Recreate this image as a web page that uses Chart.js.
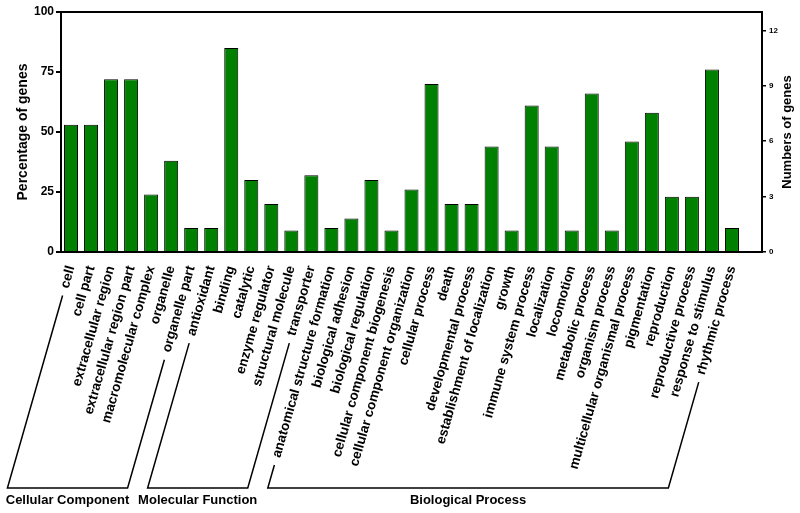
<!DOCTYPE html>
<html>
<head>
<meta charset="utf-8">
<script src="https://cdn.jsdelivr.net/npm/chart.js@4.4.0/dist/chart.umd.min.js"></script>
<style>
  body { margin: 0; background: #fff; }
  #goChart { display: block; }
</style>
</head>
<body>
<canvas id="goChart" width="800" height="513"></canvas>
<script>
// GO terms in plot order
const categories = [
  'cell', 'cell part', 'extracellular region', 'extracellular region part',
  'macromolecular complex', 'organelle', 'organelle part',
  'antioxidant', 'binding', 'catalytic', 'enzyme regulator', 'structural molecule', 'transporter',
  'anatomical structure formation', 'biological adhesion', 'biological regulation',
  'cellular component biogenesis', 'cellular component organization', 'cellular process',
  'death', 'developmental process', 'establishment of localization', 'growth',
  'immune system process', 'localization', 'locomotion', 'metabolic process',
  'organism process', 'multicellular organismal process', 'pigmentation', 'reproduction',
  'reproductive process', 'response to stimulus', 'rhythmic process'
];
const percentages = [
  53, 53, 72, 72, 24, 38, 10,
  10, 85, 30, 20, 9, 32,
  10, 14, 30, 9, 26, 70, 20, 20, 44, 9, 61, 44, 9, 66, 9, 46, 58, 23, 23, 76, 10
];
const leftTicks = [0, 25, 50, 75, 100];
const rightTicks = [0, 3, 6, 9, 12];
const rightTitle = 'Numbers of genes';

// GO top-level groups (first / last category index)
const groupNames = ['Cellular Component', 'Molecular Function', 'Biological Process'];
const groupStart = [0, 7, 13];
const groupEnd = [6, 12, 33];

const fontFamily = '"Liberation Sans", Arial, sans-serif';
const labelSize = 13.5;
const labelPad = 12;
const rotDeg = 74;
const rot = rotDeg * Math.PI / 180;

// top frame line, right title (reads bottom-up) and the group brackets
const groupBrackets = {
  id: 'groupBrackets',
  afterDraw(chart) {
    const ctx = chart.ctx;
    const xs = chart.scales.x;
    const area = chart.chartArea;
    ctx.save();
    ctx.strokeStyle = '#000';
    ctx.fillStyle = '#000';
    ctx.lineWidth = 2;
    ctx.beginPath();
    ctx.moveTo(area.left - 1, area.top);
    ctx.lineTo(area.right + 1, area.top);
    ctx.stroke();

    // right axis title
    ctx.save();
    ctx.translate(787, (area.top + area.bottom) / 2);
    ctx.rotate(-Math.PI / 2);
    ctx.font = 'bold 13px ' + fontFamily;
    ctx.textAlign = 'center';
    ctx.textBaseline = 'middle';
    ctx.fillText(rightTitle, 0, 0);
    ctx.restore();

    ctx.font = 'bold ' + labelSize + 'px ' + fontFamily;
    const baseY = xs.top + labelPad + labelSize * 1.2 * Math.cos(rot) / 2;
    const dx = -Math.cos(rot), dy = Math.sin(rot);
    const lineY = 488;
    const ends = (i) => {
      const tx = xs.getPixelForTick(i);
      const w = ctx.measureText(categories[i]).width + 8;
      const t = (lineY - baseY) / dy;
      return { x1: tx + dx * w, y1: baseY + dy * w, x2: tx + dx * t, y2: lineY };
    };
    ctx.lineWidth = 1.5;
    ctx.textAlign = 'center';
    ctx.textBaseline = 'middle';
    groupNames.forEach((name, g) => {
      const a = ends(groupStart[g]);
      const b = ends(groupEnd[g]);
      ctx.beginPath();
      ctx.moveTo(a.x1, a.y1);
      ctx.lineTo(a.x2, a.y2);
      ctx.lineTo(b.x2, b.y2);
      ctx.lineTo(b.x1, b.y1);
      ctx.stroke();
      ctx.font = 'bold 13px ' + fontFamily;
      ctx.fillText(name, (a.x2 + b.x2) / 2, 500);
      ctx.font = 'bold ' + labelSize + 'px ' + fontFamily;
    });
    ctx.restore();
  }
};

const goChart = new Chart(document.getElementById('goChart'), {
  type: 'bar',
  data: {
    labels: categories.concat(['']),
    datasets: [
      {
        label: 'Percentage of genes',
        data: percentages,
        backgroundColor: '#008000',
        borderColor: '#000',
        borderWidth: 1,
        barPercentage: 0.7,
        categoryPercentage: 1.0,
        yAxisID: 'y',
      },
    ],
  },
  options: {
    responsive: false,
    animation: false,
    layout: { padding: { top: 12, left: 0, right: 0, bottom: 0 } },
    plugins: {
      legend: { display: false },
      tooltip: { enabled: false },
    },
    scales: {
      x: {
        afterFit: (s) => { s.height = 261; },
        grid: { display: false, drawTicks: false },
        border: { display: true, color: '#000', width: 2 },
        ticks: {
          autoSkip: false,
          minRotation: rotDeg,
          maxRotation: rotDeg,
          padding: labelPad,
          color: '#000',
          font: { family: fontFamily, size: labelSize, weight: 'bold' },
        },
      },
      y: {
        position: 'left',
        min: 0,
        max: 100,
        afterFit: (s) => { s.width = 61; },
        afterBuildTicks: (s) => { s.ticks = leftTicks.map(v => ({ value: v })); },
        grid: { drawOnChartArea: false, drawTicks: true, tickLength: 5, color: '#000', lineWidth: 2 },
        border: { display: true, color: '#000', width: 2 },
        ticks: { padding: 2, color: '#000', font: { family: fontFamily, size: 12, weight: 'bold' } },
        title: {
          display: true,
          text: 'Percentage of genes',
          color: '#000',
          padding: { top: 15, bottom: 0 },
          font: { family: fontFamily, size: 14, weight: 'bold' },
        },
      },
      y1: {
        position: 'right',
        min: 0,
        max: 13,
        afterFit: (s) => { s.width = 38; },
        afterBuildTicks: (s) => { s.ticks = rightTicks.map(v => ({ value: v })); },
        grid: { drawOnChartArea: false, drawTicks: true, tickLength: 4, color: '#000', lineWidth: 1.5 },
        border: { display: true, color: '#000', width: 2 },
        ticks: { padding: 3, color: '#000', font: { family: fontFamily, size: 8, weight: 'bold' } },
      },
    },
  },
  plugins: [groupBrackets],
});
</script>
</body>
</html>
